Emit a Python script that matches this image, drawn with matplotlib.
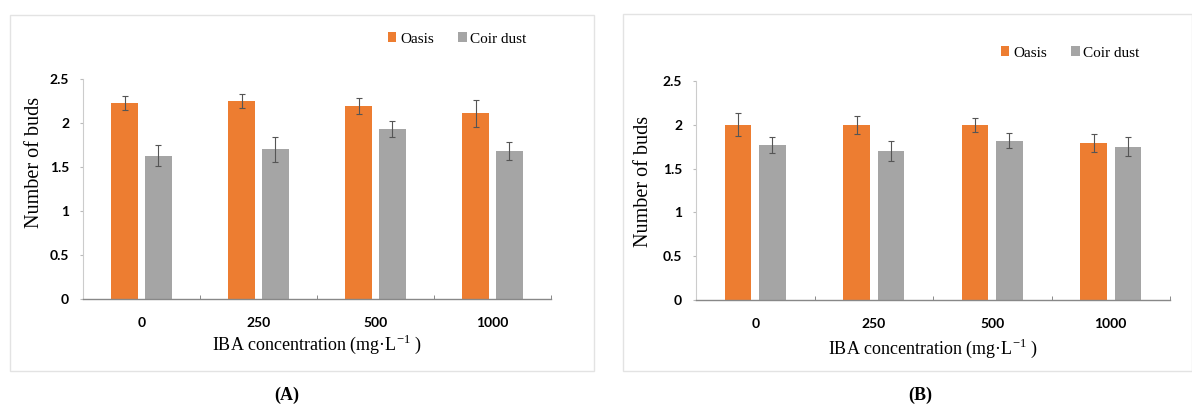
import matplotlib
matplotlib.use('Agg')
import matplotlib.pyplot as plt
import matplotlib.patches as patches
import numpy as np

plt.rcParams['mathtext.fontset'] = 'custom'
plt.rcParams['mathtext.rm'] = 'Liberation Serif'

# data
concentrations = ['0', '250', '500', '1000']
series_names = ['Oasis', 'Coir dust']

oasis_a = [2.23, 2.25, 2.19, 2.11]
oasis_a_err = [0.08, 0.08, 0.09, 0.15]
coir_a = [1.63, 1.70, 1.93, 1.68]
coir_a_err = [0.12, 0.14, 0.09, 0.10]

oasis_b = [2.00, 2.00, 2.00, 1.79]
oasis_b_err = [0.13, 0.10, 0.08, 0.10]
coir_b = [1.77, 1.70, 1.82, 1.75]
coir_b_err = [0.09, 0.11, 0.09, 0.11]

yticks = [0, 0.5, 1, 1.5, 2, 2.5]
ytick_labels = ['0', '0.5', '1', '1.5', '2', '2.5']

orange = '#ED7D31'
gray = '#A5A5A5'
serif = 'Liberation Serif'
tickfont = 'Lato'

W, H = 1192, 407
fig = plt.figure(figsize=(W / 100, H / 100), dpi=100)


def px(x0, y0, x1, y1):
    # pixel box (left, top, right, bottom) -> figure fraction rect
    return [x0 / W, 1 - y1 / H, (x1 - x0) / W, (y1 - y0) / H]


def draw_panel(rect, frame, oasis, oasis_err, coir, coir_err, legend_pos, letter_pos, letter,
               ylab_xy, xlab_pad):
    # light frame around the panel
    fx0, fy0, fx1, fy1 = frame
    fig.patches.append(patches.Rectangle((fx0 / W, 1 - fy1 / H), (fx1 - fx0) / W, (fy1 - fy0) / H,
                                         transform=fig.transFigure, fill=False,
                                         edgecolor='#E3E3E3', linewidth=1.0))
    ax = fig.add_axes(px(*rect))
    x = np.arange(len(concentrations))
    w = 0.225
    off = 0.145
    err_kw = dict(ecolor='#555555', elinewidth=0.8, capsize=2, capthick=0.8)
    b1 = ax.bar(x - off, oasis, w, yerr=oasis_err, color=orange, error_kw=err_kw, label=series_names[0])
    b2 = ax.bar(x + off, coir, w, yerr=coir_err, color=gray, error_kw=err_kw, label=series_names[1])

    ax.set_xlim(-0.5, len(concentrations) - 0.5)
    ax.set_ylim(0, 2.5)
    ax.set_yticks(yticks)
    ax.set_yticklabels(ytick_labels, fontfamily=tickfont, fontweight='bold', fontsize=10)
    ax.set_xticks(x)
    ax.set_xticklabels(concentrations, fontfamily=tickfont, fontweight='bold', fontsize=10)
    ax.set_xticks(np.arange(len(concentrations) + 1) - 0.5, minor=True)
    ax.tick_params(axis='x', which='major', length=0, pad=13)
    ax.tick_params(axis='x', which='minor', length=3, direction='in', color='#777777')
    ax.tick_params(axis='y', length=2, direction='out', color='#BBBBBB', pad=8)

    for s in ['top', 'right']:
        ax.spines[s].set_visible(False)
    ax.spines['left'].set_color('#CCCCCC')
    ax.spines['left'].set_linewidth(0.8)
    ax.spines['bottom'].set_color('#888888')
    ax.spines['bottom'].set_linewidth(1.0)

    ax.set_ylabel('Number of buds', fontfamily=serif, fontsize=14.5)
    ax.yaxis.set_label_coords(*ylab_xy)
    ax.set_xlabel('IBA concentration (mg·L$^{\\mathregular{-1}}$ )', fontfamily=serif,
                  fontsize=13, labelpad=xlab_pad)

    lx, ly = legend_pos
    fig.legend(handles=[b1, b2], loc='center left', bbox_to_anchor=(lx / W, 1 - ly / H),
               ncol=2, frameon=False, handlelength=0.55, handleheight=0.55,
               handletextpad=0.25, columnspacing=1.6,
               prop={'family': serif, 'size': 11})

    fig.text(letter_pos[0] / W, 1 - letter_pos[1] / H, letter, ha='center', va='center',
             fontfamily=serif, fontweight='bold', fontsize=13)
    return ax


draw_panel((83, 79, 551, 299), (10, 15, 594, 371), oasis_a, oasis_a_err, coir_a, coir_a_err,
           (374, 39), (287, 395), '(A)', (-0.084, 0.62), 2.5)
draw_panel((696, 81, 1170, 300), (623, 14, 1192, 371), oasis_b, oasis_b_err, coir_b, coir_b_err,
           (987, 53), (920, 395), '(B)', (-0.091, 0.54), 5)

fig.savefig('out.png', dpi=100, facecolor='white')
